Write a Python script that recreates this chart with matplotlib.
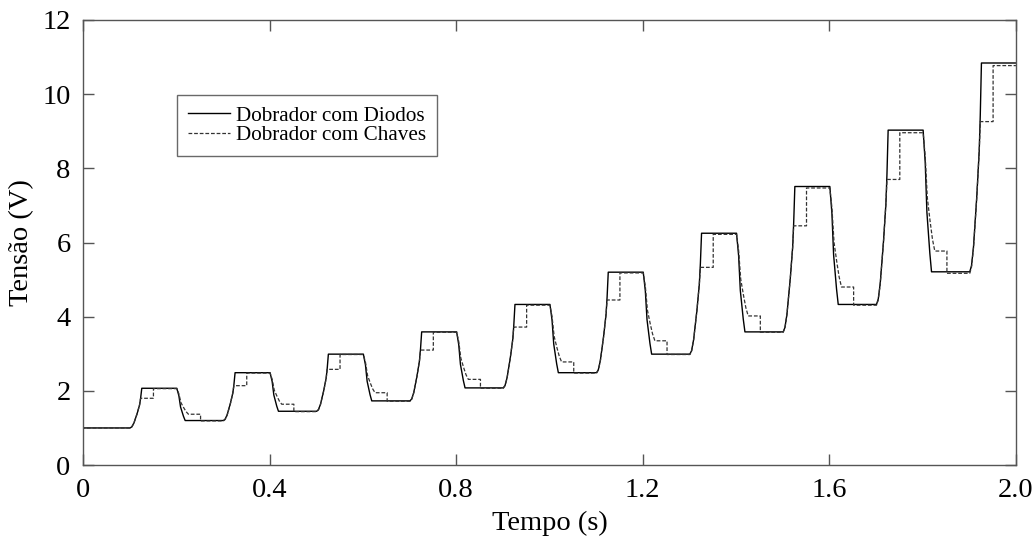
import matplotlib.pyplot as plt
import numpy as np

plt.rcParams["font.family"] = ["Liberation Serif", "DejaVu Serif"]

# instantes dos flancos (s)
rise_start = [0.101, 0.301, 0.501, 0.701, 0.901, 1.101, 1.301, 1.501, 1.701, 1.901]
fall_start = [0.201, 0.401, 0.601, 0.801, 1.001, 1.201, 1.401, 1.601, 1.801]
step_up = [0.151, 0.351, 0.551, 0.751, 0.951, 1.151, 1.351, 1.551, 1.751, 1.951]
step_down = [0.252, 0.452, 0.652, 0.852, 1.052, 1.252, 1.452, 1.652, 1.852]

# Dobrador com Diodos (V)
diode_low = [1.00, 1.20, 1.45, 1.73, 2.08, 2.49, 2.99, 3.59, 4.33, 5.21]
diode_high = [2.07, 2.49, 2.99, 3.59, 4.33, 5.20, 6.25, 7.51, 9.03, 10.84]

# Dobrador com Chaves (V)
switch_low = [1.00, 1.19, 1.44, 1.72, 2.07, 2.48, 2.98, 3.58, 4.31, 5.17]
switch_mid_up = [1.80, 2.14, 2.58, 3.10, 3.72, 4.45, 5.33, 6.45, 7.70, 9.26]
switch_high = [2.06, 2.48, 2.98, 3.58, 4.31, 5.18, 6.22, 7.47, 8.96, 10.77]
switch_mid_down = [1.37, 1.64, 1.95, 2.31, 2.78, 3.35, 4.02, 4.80, 5.77]

v_start = 0.5
t_end = 2.0

# forma das transições (fração do tempo, fração da excursão)
rise_dur = 0.025
rise_t = np.array([0.0, 0.15, 0.32, 0.60, 0.81, 0.90, 1.0])
rise_f = np.array([0.0, 0.03, 0.12, 0.36, 0.58, 0.75, 1.0])
fall_dur = 0.018
fall_t = np.array([0.0, 0.25, 0.45, 0.80, 1.0])
fall_f = np.array([0.0, 0.23, 0.58, 0.87, 1.0])
sw_fall_dur = 0.025
sw_fall_t = np.array([0.0, 0.18, 0.36, 0.60, 0.80, 1.0])
sw_fall_f = np.array([0.0, 0.20, 0.55, 0.75, 0.90, 1.0])


def diode_curve():
    t = [0.0, 0.0]
    v = [v_start, diode_low[0]]
    for k, t0 in enumerate(rise_start):
        lo, hi = diode_low[k], diode_high[k]
        t += list(t0 + rise_dur * rise_t)
        v += list(lo + (hi - lo) * rise_f)
        if k < len(fall_start):
            nxt = diode_low[k + 1]
            t += list(fall_start[k] + fall_dur * fall_t)
            v += list(hi - (hi - nxt) * fall_f)
    t.append(t_end)
    v.append(diode_high[-1])
    return np.array(t), np.array(v)


def switch_curve():
    t = [0.0, 0.0]
    v = [v_start, switch_low[0]]
    for k, t0 in enumerate(rise_start):
        lo, mid, hi = switch_low[k], switch_mid_up[k], switch_high[k]
        t += list(t0 + rise_dur * rise_t)
        v += list(np.minimum(lo + (diode_high[k] - lo) * rise_f, mid))
        t += [step_up[k], step_up[k]]
        v += [mid, hi]
        if k < len(fall_start):
            mid_d, nxt = switch_mid_down[k], switch_low[k + 1]
            t += list(fall_start[k] + sw_fall_dur * sw_fall_t)
            v += list(hi - (hi - mid_d) * sw_fall_f)
            t += [step_down[k], step_down[k]]
            v += [mid_d, nxt]
    t.append(t_end)
    v.append(switch_high[-1])
    return np.array(t), np.array(v)


fig = plt.figure(figsize=(10.35, 5.37), dpi=100)
ax = fig.add_axes([0.0802, 0.134, 0.9014, 0.8288])

td, vd = diode_curve()
ts, vs = switch_curve()
ax.plot(td, vd, color="black", lw=1.0, label="Dobrador com Diodos")
ax.plot(ts, vs, color="#333333", lw=0.9, linestyle=(0, (3, 1.5)),
        label="Dobrador com Chaves")

ax.set_xlim(0, 2.0)
ax.set_ylim(0, 12)
ax.set_xticks([0, 0.4, 0.8, 1.2, 1.6, 2.0])
ax.set_xticklabels(["0", "0.4", "0.8", "1.2", "1.6", "2.0"])
ax.set_yticks([0, 2, 4, 6, 8, 10, 12])
ax.tick_params(direction="in", length=8, width=1, color="#555555",
               top=True, right=True, labelsize=20.5, pad=9)
for s in ax.spines.values():
    s.set_color("#555555")
    s.set_linewidth(1.0)

ax.set_xlabel("Tempo (s)", fontsize=20.5)
ax.set_ylabel("Tensão (V)", fontsize=20.5)
ax.xaxis.set_label_coords(0.5, -0.103)
ax.yaxis.set_label_coords(-0.052, 0.5)

leg = ax.legend(loc="upper left", bbox_to_anchor=(0.1007, 0.831),
                fontsize=15.2, fancybox=False, edgecolor="#444444",
                handlelength=2.0, handletextpad=0.3, labelspacing=0.0,
                borderpad=0.5, borderaxespad=0)
leg.get_frame().set_linewidth(1.0)

fig.savefig("out.png", dpi=100)
